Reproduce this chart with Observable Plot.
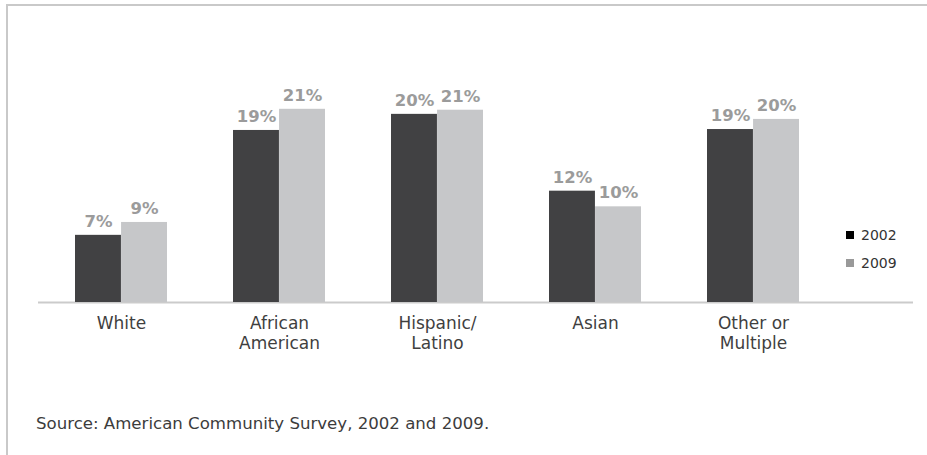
<!DOCTYPE html>
<html><head><meta charset="utf-8">
<script src="https://cdn.jsdelivr.net/npm/d3@7"></script>
<script src="https://cdn.jsdelivr.net/npm/@observablehq/plot@0.6"></script>
<style>
html,body{margin:0;padding:0;background:#fff;}
#wrap{position:relative;width:927px;height:455px;overflow:hidden;font-family:"DejaVu Sans",sans-serif;}
#frame{position:absolute;left:6px;top:4px;right:-10px;bottom:-10px;border-top:2px solid #c9c9c9;border-left:2px solid #c9c9c9;}
#chart{position:absolute;left:0;top:0;}
#legend{position:absolute;left:846px;top:221px;}
.item{display:flex;align-items:center;height:28px;}
.sw{width:8px;height:8px;}
.lab{margin-left:7px;font-size:14px;color:#333;}
#caption{position:absolute;left:36px;top:416px;font-size:16.6px;line-height:1;color:#3c3c3c;white-space:nowrap;}
</style></head>
<body>
<div id="wrap">
  <div id="frame"></div>
  <div id="chart"></div>
  <div id="legend"></div>
  <div id="caption"></div>
</div>
<script>
const categories = ["White", "African American", "Hispanic/Latino", "Asian", "Other or Multiple"];
const tickLabels = ["White", "African\nAmerican", "Hispanic/\nLatino", "Asian", "Other or\nMultiple"];
const years = ["2002", "2009"];
const values2002 = [7.3, 18.7, 20.45, 12.1, 18.8];
const values2009 = [8.7, 21.0, 20.9, 10.4, 19.9];
const barColors = ["#414143", "#c6c7c9"];
const legendColors = ["#000000", "#999999"];
const captionText = "Source: American Community Survey, 2002 and 2009.";

const rows2002 = categories.map((c, i) => ({cat: c, year: years[0], value: values2002[i]}));
const rows2009 = categories.map((c, i) => ({cat: c, year: years[1], value: values2009[i]}));

const xRange = [6, 867];
const xPad = 0.42;
const bandW = (xRange[1] - xRange[0]) / (categories.length + xPad) * (1 - xPad);
const half = bandW / 2;

const fmt = d => Math.round(d.value) + "%";

const chart = Plot.plot({
  width: 927,
  height: 400,
  marginTop: 72,
  marginBottom: 98,
  marginLeft: 38,
  marginRight: 14,
  style: {fontFamily: "DejaVu Sans", background: "transparent"},
  x: {domain: categories, range: xRange, padding: xPad, label: null},
  y: {domain: [0, 25], axis: null},
  color: {domain: years, range: barColors},
  marks: [
    Plot.ruleY([0], {stroke: "#cbcbcb", strokeWidth: 2}),
    Plot.barY(rows2002, {x: "cat", y: "value", fill: "year", insetRight: half}),
    Plot.barY(rows2009, {x: "cat", y: "value", fill: "year", insetLeft: half}),
    Plot.text(rows2002, {x: "cat", y: "value", text: fmt, dx: -half / 2, dy: -8.5, lineAnchor: "bottom", fill: "#9b9b9b", fontWeight: "bold", fontSize: 16.5}),
    Plot.text(rows2009, {x: "cat", y: "value", text: fmt, dx: half / 2, dy: -8.5, lineAnchor: "bottom", fill: "#9b9b9b", fontWeight: "bold", fontSize: 16.5}),
    Plot.axisX({tickSize: 0, tickPadding: 12, fontSize: 17, lineHeight: 1.2, fill: "#3f3f3f", label: null,
      tickFormat: c => tickLabels[categories.indexOf(c)]})
  ]
});
document.getElementById("chart").appendChild(chart);

const legend = document.getElementById("legend");
years.forEach((y, i) => {
  const item = document.createElement("div");
  item.className = "item";
  const sw = document.createElement("div");
  sw.className = "sw";
  sw.style.background = legendColors[i];
  const lab = document.createElement("span");
  lab.className = "lab";
  lab.textContent = y;
  item.appendChild(sw);
  item.appendChild(lab);
  legend.appendChild(item);
});
document.getElementById("caption").textContent = captionText;
</script>
</body></html>
